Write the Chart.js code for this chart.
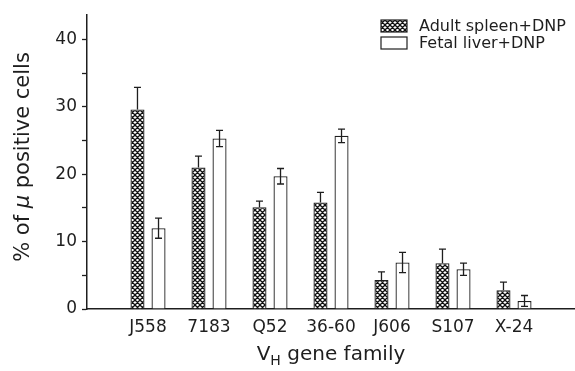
<!DOCTYPE html>
<html>
<head>
<meta charset="utf-8">
<script src="https://cdn.jsdelivr.net/npm/chart.js@4.4.1/dist/chart.umd.min.js"></script>
<style>
  html, body { margin: 0; padding: 0; background: #fff; overflow: hidden; }
  canvas { display: block; }
</style>
</head>
<body>
<canvas id="vhChart" width="575" height="371"></canvas>
<script>
// V_H gene family usage
const families = ['J558', '7183', 'Q52', '36-60', 'J606', 'S107', 'X-24'];
const adultSpleen = [29.6, 21.0, 15.1, 15.8, 4.3, 6.8, 2.8];
const adultErr = [3.3, 1.7, 0.9, 1.5, 1.2, 2.1, 1.2];
const fetalLiver = [12.0, 25.3, 19.7, 25.7, 6.9, 5.9, 1.2];
const fetalErr = [1.5, 1.2, 1.15, 1.0, 1.5, 0.9, 0.8];
const yLabelTicks = [0, 10, 20, 30, 40];

const FONT = 'DejaVu Sans';
const INK = '#1e1e1e';

// cross-hatch fill for the adult spleen bars
function makeHatch() {
    const c = document.createElement('canvas');
    c.width = 5; c.height = 5;
    const g = c.getContext('2d');
    g.fillStyle = '#fff';
    g.fillRect(0, 0, 5, 5);
    g.strokeStyle = '#111';
    g.lineWidth = 1.3;
    g.beginPath();
    [-5, 0, 5].forEach(o => {
        g.moveTo(-1 + o, -1); g.lineTo(6 + o, 6);
        g.moveTo(6 + o, -1); g.lineTo(-1 + o, 6);
    });
    g.stroke();
    return g.createPattern(c, 'repeat');
}
const hatch = makeHatch();

// empty slots at both ends so the first family sits one step off the axis
const labels = [''].concat(families, ['']);
const pad = arr => [null].concat(arr, [null]);

const errorBars = {
    id: 'errorBars',
    afterDatasetsDraw(chart) {
        const ctx = chart.ctx;
        const y = chart.scales.y;
        ctx.save();
        ctx.strokeStyle = INK;
        ctx.lineWidth = 1.3;
        chart.data.datasets.forEach((ds, di) => {
            const meta = chart.getDatasetMeta(di);
            meta.data.forEach((bar, i) => {
                const v = ds.data[i];
                if (v == null) return;
                const e = ds.errors[i];
                const top = y.getPixelForValue(v + e);
                const bot = ds.lowerErr ? y.getPixelForValue(v - e) : y.getPixelForValue(v);
                ctx.beginPath();
                ctx.moveTo(bar.x, top); ctx.lineTo(bar.x, bot);
                ctx.moveTo(bar.x - 3.5, top); ctx.lineTo(bar.x + 3.5, top);
                if (ds.lowerErr) { ctx.moveTo(bar.x - 3.5, bot); ctx.lineTo(bar.x + 3.5, bot); }
                ctx.stroke();
            });
        });
        ctx.restore();
    }
};

const decorations = {
    id: 'decorations',
    afterDraw(chart) {
        const ctx = chart.ctx;
        const area = chart.chartArea;
        ctx.save();
        ctx.fillStyle = INK;

        // legend, top right
        ctx.font = '16px ' + FONT;
        ctx.textBaseline = 'middle';
        chart.data.datasets.forEach((ds, i) => {
            const bx = 381, by = 20 + i * 17;
            ctx.fillStyle = ds.backgroundColor;
            ctx.fillRect(bx, by, 26, 12);
            ctx.strokeStyle = INK;
            ctx.lineWidth = 1.2;
            ctx.strokeRect(bx, by, 26, 12);
            ctx.fillStyle = INK;
            ctx.fillText(ds.label, bx + 38, by + 6.5);
        });

        // x title with subscript H
        const big = '20px ' + FONT, small = '14px ' + FONT;
        ctx.font = big;
        const wV = ctx.measureText('V').width;
        const wRest = ctx.measureText(' gene family').width;
        ctx.font = small;
        const wH = ctx.measureText('H').width;
        let x = (area.left + area.right) / 2 - (wV + wH + wRest) / 2;
        const ty = 355;
        ctx.textAlign = 'left';
        ctx.font = big; ctx.fillText('V', x, ty); x += wV;
        ctx.font = small; ctx.fillText('H', x, ty + 6); x += wH;
        ctx.font = big; ctx.fillText(' gene family', x, ty);

        // y title, rotated, with italic mu
        const parts = [['% of ', '21px ' + FONT], ['\u03bc', 'italic 21px ' + FONT], [' positive cells', '21px ' + FONT]];
        let total = 0;
        parts.forEach(p => { ctx.font = p[1]; total += ctx.measureText(p[0]).width; });
        ctx.translate(24, 157);
        ctx.rotate(-Math.PI / 2);
        let px = -total / 2;
        parts.forEach(p => { ctx.font = p[1]; ctx.fillText(p[0], px, 0); px += ctx.measureText(p[0]).width; });
        ctx.restore();
    }
};

new Chart(document.getElementById('vhChart'), {
    type: 'bar',
    data: {
        labels: labels,
        datasets: [{
            label: 'Adult spleen+DNP',
            data: pad(adultSpleen),
            errors: pad(adultErr),
            lowerErr: false,
            backgroundColor: hatch,
            borderColor: INK,
            borderWidth: 1.3
        }, {
            label: 'Fetal liver+DNP',
            data: pad(fetalLiver),
            errors: pad(fetalErr),
            lowerErr: true,
            backgroundColor: '#fff',
            borderColor: INK,
            borderWidth: 1.3
        }]
    },
    options: {
        responsive: false,
        animation: false,
        layout: { padding: { top: 15, right: 0, left: 0, bottom: 0 } },
        categoryPercentage: 0.69,
        barPercentage: 0.667,
        plugins: {
            legend: { display: false },
            tooltip: { enabled: false }
        },
        scales: {
            x: {
                offset: false,
                grid: { display: false },
                border: { display: true, color: INK, width: 1.5 },
                ticks: {
                    color: INK,
                    padding: 0,
                    autoSkip: false,
                    maxRotation: 0,
                    font: { family: FONT, size: 17 }
                },
                afterFit: scale => {
                    scale.height = 62;
                    scale.paddingLeft = 0;
                    scale.paddingRight = 0;
                }
            },
            y: {
                min: 0,
                max: 43.6,
                grid: { display: true, drawOnChartArea: false, drawTicks: true, tickLength: 5, tickColor: INK, tickWidth: 1.3 },
                border: { display: true, color: INK, width: 1.5 },
                afterBuildTicks: scale => {
                    const t = [];
                    for (let v = 0; v <= 40; v += 5) t.push({ value: v });
                    scale.ticks = t;
                },
                ticks: {
                    color: INK,
                    padding: 5,
                    font: { family: FONT, size: 17 },
                    callback: v => yLabelTicks.includes(v) ? String(v) : ''
                },
                afterFit: scale => { scale.width = 87; }
            }
        }
    },
    plugins: [errorBars, decorations]
});
</script>
</body>
</html>
